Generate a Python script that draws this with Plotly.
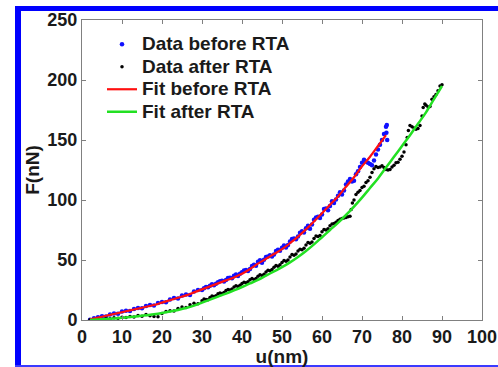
import plotly.graph_objects as go

# ---------------- data ----------------
u_before = [2, 3, 4, 5, 6, 7, 8, 9, 10, 11, 12, 13, 14, 15, 16, 17, 18, 19, 20, 21, 22, 23, 24, 25, 26, 27, 28, 29,
            30, 30.5, 31, 31.5, 32, 32.5, 33, 33.5, 34, 34.5, 35, 35.5, 36, 36.5, 37, 37.5, 38, 38.5, 39, 39.5,
            40, 40.5, 41, 41.5, 42, 42.5, 43, 43.5, 44, 44.5, 45, 45.5, 46, 46.5, 47, 47.5, 48, 48.5, 49, 49.5,
            50, 50.5, 51, 51.5, 52, 52.5, 53, 53.5, 54, 54.5, 55, 55.5, 56, 56.5, 57, 57.5, 58, 58.5, 59, 59.5,
            60, 60.5, 61, 61.5, 62, 62.5, 63, 63.5, 64, 64.5, 65, 65.5, 66, 66.5, 67, 67.5, 68, 68.5, 69, 69.5,
            70, 70.5, 71, 71.5, 72, 72.5, 73, 73.5, 74, 74.5, 75, 75.5, 76, 76.2, 76.3, 76.1]
F_before = [0.3, 1.5, 2.3, 3.2, 3.0, 4.6, 5.5, 5.2, 7.0, 7.8, 7.5, 9.2, 10.1, 9.8, 11.6, 12.4, 12.0, 14.2, 15.1, 14.8,
            17.0, 18.3, 18.0, 20.4, 21.2, 20.9, 23.8, 24.9,
            25.0, 26.5, 27.5, 27.2, 28.6, 29.8, 28.9, 30.3, 31.5, 32.2, 32.8, 32.0, 33.4, 35.0, 35.2, 34.8, 36.8, 37.9,
            36.7, 38.5,
            39.8, 41.2, 41.6, 40.9, 42.5, 45.0, 46.0, 45.3, 48.5, 49.8, 47.8, 50.2, 52.5, 53.0, 54.0, 53.0, 54.5, 57.5,
            58.5, 57.8,
            60.2, 62.0, 60.5, 62.5, 65.5, 67.5, 68.0, 67.2, 69.5, 72.8, 74.0, 73.0, 76.5, 78.5, 76.0, 79.5, 83.5, 85.5,
            86.0, 85.0,
            88.0, 92.5, 93.0, 91.5, 95.0, 99.0, 97.5, 100.5, 103.5, 106.5, 104.5, 108.0, 113.0, 115.5, 117.5, 115.5,
            116.0, 121.5, 124.0, 127.5,
            131.0, 133.5, 132.0, 131.0, 130.0, 129.0, 133.0, 138.0, 142.0, 146.0, 150.0, 155.0, 161.0, 162.5, 150.0,
            156.0]

u_after = [2, 3, 4, 5, 6, 7, 8, 9, 10, 11, 12, 13, 14, 15, 16, 17, 18, 19, 20, 21, 22, 23, 24, 25, 26, 27, 28, 29,
           30, 30.5, 31, 31.5, 32, 32.5, 33, 33.5, 34, 34.5, 35, 35.5, 36, 36.5, 37, 37.5, 38, 38.5, 39, 39.5,
           40, 40.5, 41, 41.5, 42, 42.5, 43, 43.5, 44, 44.5, 45, 45.5, 46, 46.5, 47, 47.5, 48, 48.5, 49, 49.5,
           50, 50.5, 51, 51.5, 52, 52.5, 53, 53.5, 54, 54.5, 55, 55.5, 56, 56.5, 57, 57.5, 58, 58.5, 59, 59.5,
           60, 60.5, 61, 61.5, 62, 62.5, 63, 63.5, 64, 64.5, 65, 65.5, 66, 66.5, 67, 67.3, 67.6, 68, 68.5, 69, 69.5,
           70, 70.5, 71, 71.5, 72, 72.5, 73, 73.5, 74, 74.5, 75, 75.5, 76, 76.5, 77, 77.5, 78, 78.5, 79, 79.5,
           80, 80.5, 81, 81.3, 81.6, 82, 82.5, 83, 83.5, 84, 84.5, 85, 85.3, 85.7, 86, 86.5, 87, 87.5, 88, 88.5,
           89, 89.5, 90]
F_after = [0.2, 0.0, 0.8, 0.5, 1.2, 1.0, 1.8, 1.4, 2.3, 2.0, 3.0, 2.6, 3.8, 3.2, 4.6, 3.5, 3.0, 2.8, 5.5, 7.0, 7.8,
           7.5, 9.5, 10.8, 10.5, 12.8, 14.0, 13.6,
           16.0, 17.5, 17.0, 16.8, 18.8, 20.0, 19.5, 20.2, 21.8, 22.5, 22.0, 23.0, 24.5, 25.5, 25.0, 25.8, 27.5, 28.5,
           28.0, 29.0,
           30.5, 31.5, 31.0, 31.8, 33.5, 34.5, 33.8, 34.5, 36.5, 37.8, 37.0, 38.2, 40.0, 41.5, 41.0, 42.0, 44.0, 45.5,
           44.8, 46.0,
           48.0, 49.5, 49.0, 50.0, 52.5, 54.5, 54.0, 55.0, 57.5, 59.0, 58.5, 59.8, 62.5, 64.5, 64.0, 65.0, 68.0, 70.0,
           69.5, 70.5,
           73.5, 75.5, 75.0, 76.0, 78.5, 80.0, 80.5, 81.5, 83.0, 84.0, 84.5, 85.0, 85.5, 86.0, 86.5, 92.0, 97.5,
           100.0, 104.5, 106.5, 108.0,
           110.5, 111.5, 114.5, 116.0, 119.0, 123.0, 126.0, 128.0, 127.0, 127.5, 128.5, 127.0, 125.5, 125.0, 125.5,
           127.5, 129.0, 131.0, 131.5, 134.0,
           136.5, 140.0, 146.0, 152.0, 158.0, 162.0, 161.0, 160.0, 159.0, 159.5, 162.0, 170.0, 177.0, 180.0, 179.0,
           177.5, 178.0, 184.0, 186.0, 188.0,
           191.0, 195.0, 196.0]

u_fit_before = [2, 4, 6, 8, 10, 12, 14, 16, 18, 20, 22, 24, 26, 28, 30, 32, 34, 36, 38, 40, 42, 44, 46, 48, 50,
                52, 54, 56, 58, 60, 62, 64, 66, 68, 70, 72, 74, 76]
F_fit_before = [0.5, 2, 3.5, 5, 6.5, 8, 9.5, 11, 12.5, 14.5, 16.5, 18.5, 20.5, 23, 25.5, 28, 30.5, 33, 35.5, 38.5,
                42.5, 47, 51, 55, 59, 64, 69.5, 75.5, 82, 89, 96, 103, 111, 119, 128, 136, 145, 154]

u_fit_after = [2, 4, 6, 8, 10, 12, 14, 16, 18, 20, 22, 24, 26, 28, 30, 32, 34, 36, 38, 40, 42, 44, 46, 48, 50,
               52, 54, 56, 58, 60, 62, 64, 66, 68, 70, 72, 74, 76, 78, 80, 82, 84, 86, 88, 90]
F_fit_after = [0, 0.4, 0.8, 1.3, 1.9, 2.5, 3.2, 4, 4.8, 5.8, 7, 8.4, 10, 12, 14.5, 17, 19.5, 22, 24.7, 27.5, 30.5,
               33.5, 37, 40.5, 44, 48, 52.5, 57.5, 63, 69, 75, 81, 87.5, 94.5, 102, 110, 118, 127, 136, 145, 154,
               163.5, 173, 184, 195]

x_ticks = [0, 10, 20, 30, 40, 50, 60, 70, 80, 90, 100]
y_ticks = [0, 50, 100, 150, 200, 250]

series_names = ["Data before RTA", "Data after RTA", "Fit before RTA", "Fit after RTA"]

# ---------------- figure ----------------
FONT = "Liberation Sans, Arial, sans-serif"
TXT = "#1a1a1a"


def legend_label(s):
    # larger visible text while the legend row spacing follows legend.font.size
    return '<span style="font-size:19px">' + s + '</span>'


fig = go.Figure()
fig.add_trace(go.Scatter(x=u_before, y=F_before, mode="markers", name=legend_label(series_names[0]),
                         marker=dict(color="#1010ff", size=4.5, line=dict(width=0))))
fig.add_trace(go.Scatter(x=u_after, y=F_after, mode="markers", name=legend_label(series_names[1]),
                         marker=dict(color="#000000", size=3.5, line=dict(width=0))))
fig.add_trace(go.Scatter(x=u_fit_before, y=F_fit_before, mode="lines", name=legend_label(series_names[2]),
                         line=dict(color="#ff1010", width=2.2, shape="spline")))
fig.add_trace(go.Scatter(x=u_fit_after, y=F_fit_after, mode="lines", name=legend_label(series_names[3]),
                         line=dict(color="#22e022", width=2.5, shape="spline")))

axis_common = dict(showline=True, linecolor="#808080", linewidth=1, mirror="ticks",
                   ticks="inside", ticklen=4, tickcolor="#808080", showgrid=False, zeroline=False,
                   automargin=False,
                   tickfont=dict(family=FONT, size=18, color=TXT, weight="bold"))

fig.update_xaxes(range=[0, 100], tickvals=x_ticks, ticktext=[str(v) for v in x_ticks],
                 title=dict(text="u(nm)", font=dict(family=FONT, size=19, color=TXT, weight="bold"),
                            standoff=0),
                 **axis_common)
fig.update_yaxes(range=[0, 250], tickvals=y_ticks, ticktext=[str(v) for v in y_ticks],
                 title=dict(text="F(nN)", font=dict(family=FONT, size=19, color=TXT, weight="bold"),
                            standoff=2),
                 **axis_common)


def px_x(px):
    return (px - 82) / 400.0


def px_y(py):
    return (320 - py) / 300.0


# blue picture frame (left, top, bottom); drawn as stroked lines running past the right page edge
shapes = [
    dict(type="line", xref="paper", yref="paper", x0=px_x(18), x1=px_x(18), y0=px_y(367), y1=px_y(6),
         line=dict(color="#0000ff", width=6)),
    dict(type="line", xref="paper", yref="paper", x0=px_x(15), x1=px_x(530), y0=px_y(8.5), y1=px_y(8.5),
         line=dict(color="#0000ff", width=5)),
    dict(type="line", xref="paper", yref="paper", x0=px_x(15), x1=px_x(530), y0=px_y(366), y1=px_y(366),
         line=dict(color="#3a3aff", width=2)),
]

fig.update_layout(
    width=498, height=367,
    margin=dict(l=82, r=16, t=20, b=47, autoexpand=False),
    paper_bgcolor="white", plot_bgcolor="white",
    font=dict(family=FONT, size=17, color=TXT),
    showlegend=True,
    legend=dict(x=px_x(102), y=px_y(28), xanchor="left", yanchor="top",
                bgcolor="rgba(0,0,0,0)", borderwidth=0, tracegroupgap=0, itemwidth=30,
                font=dict(family=FONT, size=15, color=TXT, weight="bold")),
    shapes=shapes,
)

fig.write_html("out.html", config={"displayModeBar": False})
